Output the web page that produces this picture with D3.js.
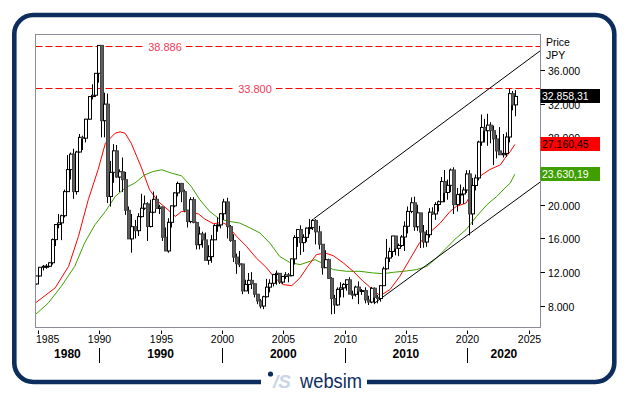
<!DOCTYPE html>
<html>
<head>
<meta charset="utf-8">
<script src="https://cdn.jsdelivr.net/npm/d3@7"></script>
<style>
  body { margin: 0; background: #fff; }
  text { font-family: "Liberation Sans", Arial, sans-serif; }
</style>
</head>
<body>
<div id="chart"></div>
<script>

var width_chart = 629,
    height_chart = 395;

// quarterly candles, first one is 1984 Q4, last one 2023 Q4 (Oct-Nov)
var first_year = 1984, first_quarter = 4;

var opens = [10600,
  11543, 12580, 12700, 12700,  13113, 15860, 17650, 17850,  18701, 21560, 24176, 26010,  21564, 26260, 28000, 27900,
  30159, 32839, 33000, 35600,  38916, 29980, 31940, 20984,  23849, 26400, 23290, 23916,  22984, 19346, 15951, 17399,
  16925, 18591, 19590, 20106,  17417, 19112, 20644, 19564,  19723, 16140, 14517, 17913,  19868, 21407, 22530, 21556,
  19361, 18003, 20605, 17888,  15259, 16527, 15830, 13406,  13842, 15837, 17530, 17605,  18934, 20337, 17411, 15747,
  13786, 12999, 12969, 9775,   10543, 11025, 10622, 9383,   8579, 7973, 9083, 10219,     10677, 11715, 11858, 10823,
  11489, 11668, 11584, 13574,  16111, 17059, 15505, 16128,  17226, 17288, 18138, 16786,  15308, 12526, 13481, 11260,
  8860, 8110, 9958, 10133,     10546, 11090, 9383, 9369,    10229, 9755, 9816, 8700,     8455, 10084, 9007, 8870,
  10395, 12398, 13677, 14456,  16291, 14828, 15162, 16174,  17451, 19207, 20236, 17388,  19034, 16759, 15576, 16450,
  19114, 18909, 20033, 20356,  22765, 21454, 22305, 24120,  20015, 21206, 21276, 21756,  23657, 18917, 22288, 23185,
  27444, 29179, 28792, 29453,  28792, 27821, 26393, 25937,  26095, 28041, 33189, 31857];

var highs = [11600,
  12600, 12850, 12950, 13130,  16000, 17700, 18900, 18820,  21800, 25900, 26200, 26646,  26400, 28400, 28200, 30200,
  32900, 34300, 35600, 38957,  38950, 33300, 33200, 25200,  27200, 27100, 24200, 25600,  23900, 19800, 18900, 18200,
  19000, 21300, 21100, 20300,  20600, 21573, 21100, 20000,  19800, 17300, 18400, 19900,  21500, 22750, 22600, 21800,
  19400, 20900, 20900, 18000,  17400, 16800, 16700, 15200,  16400, 17700, 18500, 19000,  20700, 20833, 17600, 16500,
  14200, 14500, 13000, 11100,  11900, 12000, 10700, 9400,   8800, 9200, 11200, 11160,    11800, 12195, 11900, 11500,
  12000, 11900, 13600, 16400,  17100, 17563, 16500, 17300,  18300, 18300, 18295, 17500,  15300, 14600, 13600, 11400,
  9300, 10200, 10800, 10700,   11100, 11400, 9800, 10400,   10900, 10000, 10200, 9200,   10250, 10200, 9300, 10450,
  12650, 15942, 14900, 16300,  16300, 15400, 16400, 18030,  19800, 20868, 20950, 20000,  19000, 17600, 17000, 19600,
  19700, 20300, 20500, 23300,  24129, 23000, 24300, 24448,  22000, 22400, 22100, 24100,  24115, 23185, 23600, 27600,
  30714, 30200, 30795, 29800,  29400, 28300, 29222, 28400,  28600, 33772, 33500, 33600];

var lows = [10500,
  11500, 12200, 12400, 12600,  12900, 15100, 17200, 15800,  18500, 21500, 23000, 20700,  21200, 26200, 26500, 27400,
  30100, 32500, 32800, 34500,  28000, 28000, 20200, 19781,  22600, 23200, 21500, 21500,  18800, 15950, 14309, 16000,
  16300, 18500, 19400, 15700,  17300, 19000, 19700, 18900,  15700, 14485, 14300, 17300,  19700, 21000, 20300, 19100,
  17300, 17800, 17800, 14700,  14700, 14900, 13400, 12880,  13100, 15800, 16800, 17200,  18200, 16000, 15600, 13200,
  11800, 12600, 9382, 9800,    9420, 10000, 9000, 8200,     7700, 7603, 9000, 9600,      10300, 10500, 10600, 10600,
  11200, 10800, 11500, 12900,  15000, 14045, 14400, 15600,  16500, 17000, 15300, 14700,  11700, 12500, 11200, 6994,
  7054, 8000, 9000, 9000,      9800, 9400, 8800, 9100,      8200, 9300, 8300, 8100,      8300, 8200, 8300, 8500,
  10400, 12300, 13200, 13800,  14000, 13900, 15000, 14500,  16600, 19000, 16900, 16900,  14865, 14900, 15000, 16100,
  18800, 18200, 19200, 20300,  20300, 20600, 21500, 18900,  19200, 20100, 20100, 21400,  16358, 17600, 21700, 22900,
  27000, 27400, 27000, 27300,  24700, 25500, 25900, 25600,  25700, 27400, 31200, 30500];

var closes = [11543,
  12580, 12700, 12700, 13113,  15860, 17650, 17850, 18701,  21560, 24176, 26010, 21564,  26260, 28000, 27900, 30159,
  32839, 33000, 35600, 38916,  29980, 31940, 20984, 23849,  26400, 23290, 23916, 22984,  19346, 15951, 17399, 16925,
  18591, 19590, 20106, 17417,  19112, 20644, 19564, 19723,  16140, 14517, 17913, 19868,  21407, 22530, 21556, 19361,
  18003, 20605, 17888, 15259,  16527, 15830, 13406, 13842,  15837, 17530, 17605, 18934,  20337, 17411, 15747, 13786,
  12999, 12969, 9775, 10543,   11025, 10622, 9383, 8579,    7973, 9083, 10219, 10677,    11715, 11858, 10823, 11489,
  11668, 11584, 13574, 16111,  17059, 15505, 16128, 17226,  17288, 18138, 16786, 15308,  12526, 13481, 11260, 8860,
  8110, 9958, 10133, 10546,    11090, 9383, 9369, 10229,    9755, 9816, 8700, 8455,      10084, 9007, 8870, 10395,
  12398, 13677, 14456, 16291,  14828, 15162, 16174, 17451,  19207, 20236, 17388, 19034,  16759, 15576, 16450, 19114,
  18909, 20033, 20356, 22765,  21454, 22305, 24120, 20015,  21206, 21276, 21756, 23657,  18917, 22288, 23185, 27444,
  29179, 28792, 29453, 28792,  27821, 26393, 25937, 26095,  28041, 33189, 31857, 32858];

// moving averages (decimal year, value)
var red_ma_years = [1984.8, 1986.4, 1987.5, 1988.3, 1989.1, 1989.9, 1990.5, 1991.3, 1991.7, 1992.1, 1992.6, 1993.4,
  1994.1, 1994.8, 1995.6, 1996.2, 1996.7, 1997.3, 1998.1, 1998.6, 1999.3, 2000.0, 2000.4, 2001.2, 2002.0, 2002.8,
  2003.65, 2004.3, 2005.0, 2005.7, 2006.36, 2007.0, 2007.7, 2008.4, 2009.07, 2009.9, 2010.7, 2011.5, 2012.3, 2012.9,
  2013.7, 2014.5, 2015.3, 2016.1, 2016.9, 2017.8, 2018.6, 2019.1, 2019.9, 2020.5, 2021.0, 2021.8, 2022.7, 2023.07,
  2023.5, 2023.88];
var red_ma = [8350, 10130, 12690, 16240, 20590, 24150, 27310, 28500, 28650, 28500, 27310, 24540,
  21780, 20390, 19410, 18610, 19200, 19200, 18900, 18300, 17750, 17900, 17630, 16240, 15060, 13680,
  12500, 11315, 10520, 10400, 11315, 12690, 14080, 14280, 13960, 13090, 12100, 10920, 9930, 9200,
  9930, 11500, 13480, 15460, 16650, 17830, 19210, 19800, 20200, 21780, 23350, 24150, 24740, 25530,
  26310, 27160];

var green_ma_years = [1984.8, 1985.85, 1986.9, 1988.0, 1988.8, 1989.65, 1990.5, 1991.3, 1992.1, 1992.9, 1993.7,
  1994.4, 1995.1, 1995.9, 1996.7, 1997.5, 1998.2, 1999.0, 1999.8, 2000.6, 2001.45, 2002.3, 2003.1, 2003.9, 2004.7,
  2005.5, 2006.36, 2007.2, 2007.6, 2008.4, 2009.07, 2010.16, 2011.25, 2012.3, 2013.1, 2013.96, 2014.8, 2015.87,
  2016.7, 2017.5, 2018.3, 2019.1, 2019.9, 2020.75, 2021.6, 2022.4, 2023.07, 2023.5, 2023.88];
var green_ma = [6970, 8350, 10320, 12690, 15460, 17630, 19210, 20980, 21980, 22570, 23550,
  23950, 24150, 23750, 23440, 22170, 20590, 19210, 18300, 18020, 17830, 17240, 16650, 15460, 13880,
  13170, 12890, 13290, 13480, 12890, 12300, 12100, 12100, 11910, 11820, 11980, 12100, 12300,
  12690, 13680, 14870, 16050, 17040, 18610, 20000, 20980, 21980, 22570, 23630];

// trend channel (start / end points)
var trend_upper = [[2007.45, 18300], [2025.97, 38300]];
var trend_lower = [[2012.39, 8270], [2025.97, 22725]];

var hlines = [38886, 33800];
var last_values = [32858.31, 27160.45, 23630.19];
var last_colors = ["#000000", "#ff0000", "#3f9f00"];
var last_text = ["#ffffff", "#000000", "#ffffff"];

var year_ticks = [1985, 1990, 1995, 2000, 2005, 2010, 2015, 2020, 2025];
var decades = ["1980", "1990", "2000", "2010", "2020"];
var decade_lines = [1990, 2000, 2010, 2020];
var price_ticks = [8000, 12000, 16000, 20000, 24000, 28000, 32000, 36000];

var plot_l = 35.5, plot_r = 540.5, plot_t = 34.5, plot_b = 327.5;

var loc = d3.formatLocale({decimal: ",", thousands: ".", grouping: [3], currency: ["", ""]});
var fmt_int = loc.format(",.0f"), fmt_dec = loc.format(",.2f"), fmt_line = loc.format(",.0f");

var svg = d3.select("#chart").append("svg")
    .attr("width", width_chart)
    .attr("height", height_chart);

var x = d3.scaleLinear().domain([1984.80, 2025.97]).range([plot_l, plot_r]);
var y = d3.scaleLinear().domain([5430, 40150]).range([plot_b, plot_t + 0.5]);

// outer rounded frame
svg.append("rect")
    .attr("x", 14.3).attr("y", 15)
    .attr("width", 600).attr("height", 367)
    .attr("rx", 19)
    .style("fill", "none")
    .style("stroke", "#0c2d5e")
    .style("stroke-width", 4.6);

svg.append("defs").append("clipPath").attr("id", "plotclip")
  .append("rect")
    .attr("x", plot_l).attr("y", plot_t)
    .attr("width", plot_r - plot_l).attr("height", plot_b - plot_t);

var plot = svg.append("g").attr("clip-path", "url(#plotclip)");

// horizontal dashed levels
hlines.forEach(function(v, i) {
  plot.append("line")
    .attr("x1", plot_l).attr("x2", plot_r)
    .attr("y1", Math.round(y(v)) + 0.5).attr("y2", Math.round(y(v)) + 0.5)
    .style("stroke", "#ff0000")
    .style("stroke-dasharray", "7,3");
});
var hl_pos = [165, 255];
hlines.forEach(function(v, i) {
  svg.append("rect")
    .attr("x", hl_pos[i] - 21).attr("y", Math.round(y(v)) - 4)
    .attr("width", 42).attr("height", 9)
    .style("fill", "#fff");
  svg.append("text")
    .attr("x", hl_pos[i]).attr("y", Math.round(y(v)) + 4.5)
    .attr("text-anchor", "middle")
    .style("font-size", "11px")
    .style("fill", "#f03a5a")
    .text(fmt_line(v));
});

// moving averages
var ma_line = d3.line().x(function(d) { return x(d[0]); }).y(function(d) { return y(d[1]); });

plot.append("path")
    .datum(green_ma_years.map(function(t, i) { return [t, green_ma[i]]; }))
    .attr("d", ma_line)
    .style("fill", "none").style("stroke", "#3f9f00").style("stroke-width", 1);

plot.append("path")
    .datum(red_ma_years.map(function(t, i) { return [t, red_ma[i]]; }))
    .attr("d", ma_line)
    .style("fill", "none").style("stroke", "#ff0000").style("stroke-width", 1);

// trend channel
[trend_upper, trend_lower].forEach(function(tl) {
  plot.append("path")
    .datum(tl)
    .attr("d", ma_line)
    .style("fill", "none").style("stroke", "#000").style("stroke-width", 1);
});

// candles
var candles = closes.map(function(c, i) {
  var q = first_quarter - 1 + i;
  var yr = first_year + Math.floor(q / 4);
  return {t: yr + (q % 4) * 0.25 + 0.125, o: opens[i], h: highs[i], l: lows[i], c: c};
});

var cg = plot.selectAll("g.candle")
    .data(candles)
    .enter().append("g")
    .attr("class", "candle");

cg.append("line")
    .attr("x1", function(d) { return Math.round(x(d.t)) + 0.5; })
    .attr("x2", function(d) { return Math.round(x(d.t)) + 0.5; })
    .attr("y1", function(d) { return y(d.h); })
    .attr("y2", function(d) { return y(d.l); })
    .style("stroke", "#000");

cg.append("rect")
    .attr("x", function(d) { return Math.round(x(d.t)) - 0.5; })
    .attr("y", function(d) { return y(Math.max(d.o, d.c)); })
    .attr("width", 3)
    .attr("height", function(d) { return Math.max(1, Math.abs(y(d.o) - y(d.c))); })
    .style("fill", function(d) { return d.c >= d.o ? "#fff" : "#5e5e5e"; })
    .style("stroke", function(d) { return d.c >= d.o ? "#000" : "#444"; })
    .style("stroke-width", 1);

// plot frame
svg.append("rect")
    .attr("x", plot_l).attr("y", plot_t)
    .attr("width", plot_r - plot_l).attr("height", plot_b - plot_t)
    .style("fill", "none")
    .style("stroke", "#8b8b9a");

// right price axis
svg.append("text").attr("x", 546).attr("y", 45.5).style("font-size", "10.5px").text("Price");
svg.append("text").attr("x", 546).attr("y", 59).style("font-size", "10.5px").text("JPY");

price_ticks.forEach(function(v) {
  var ty = Math.round(y(v)) + 0.5;
  svg.append("line")
    .attr("x1", plot_r).attr("x2", plot_r + 4.5)
    .attr("y1", ty).attr("y2", ty)
    .style("stroke", "#000");
  svg.append("text")
    .attr("x", 548).attr("y", ty + 4)
    .style("font-size", "10.5px")
    .text(fmt_int(v));
});

last_values.forEach(function(v, i) {
  var cy = y(v);
  svg.append("rect")
    .attr("x", plot_r).attr("y", Math.round(cy) - 7)
    .attr("width", 59.5).attr("height", 14)
    .style("fill", last_colors[i]);
  svg.append("text")
    .attr("x", plot_r + 1.5).attr("y", Math.round(cy) + 4)
    .style("font-size", "10.5px")
    .style("fill", last_text[i])
    .text(fmt_dec(v));
});

// bottom time axis
year_ticks.forEach(function(yr, i) {
  var tx = Math.round(x(yr)) + 0.5;
  svg.append("line")
    .attr("x1", tx).attr("x2", tx)
    .attr("y1", 330.5).attr("y2", 334)
    .style("stroke", "#000");
  var lbl = svg.append("text")
    .attr("y", 343.3)
    .style("font-size", "10.5px")
    .text(yr);
  if (i == 0) {
    lbl.attr("x", plot_l + 0.5).attr("text-anchor", "start");
  } else {
    lbl.attr("x", tx).attr("text-anchor", "middle");
  }
});

decade_lines.forEach(function(yr) {
  var tx = Math.round(x(yr)) + 0.5;
  svg.append("line")
    .attr("x1", tx).attr("x2", tx)
    .attr("y1", 348).attr("y2", 363)
    .style("stroke", "#000");
});

var bounds = [x.domain()[0]].concat(decade_lines).concat([x.domain()[1]]);
decades.forEach(function(d, i) {
  svg.append("text")
    .attr("x", (x(bounds[i]) + x(bounds[i + 1])) / 2)
    .attr("y", 357.7)
    .attr("text-anchor", "middle")
    .style("font-size", "12px")
    .style("font-weight", "bold")
    .text(d);
});

// logo on the bottom edge
svg.append("rect")
    .attr("x", 261).attr("y", 372)
    .attr("width", 106).attr("height", 20)
    .style("fill", "#fff");
svg.append("circle")
    .attr("cx", 270.5).attr("cy", 374)
    .attr("r", 2.6)
    .style("fill", "#0c2d5e");
svg.append("text")
    .attr("x", 273).attr("y", 388)
    .style("font-size", "19px")
    .style("font-weight", "bold")
    .style("font-style", "italic")
    .style("fill", "#c9d5e5")
    .text("/S");
svg.append("text")
    .attr("x", 300).attr("y", 388)
    .attr("textLength", 62)
    .attr("lengthAdjust", "spacingAndGlyphs")
    .style("font-size", "21px")
    .style("fill", "#0c2d5e")
    .text("websim");

</script>
</body>
</html>
